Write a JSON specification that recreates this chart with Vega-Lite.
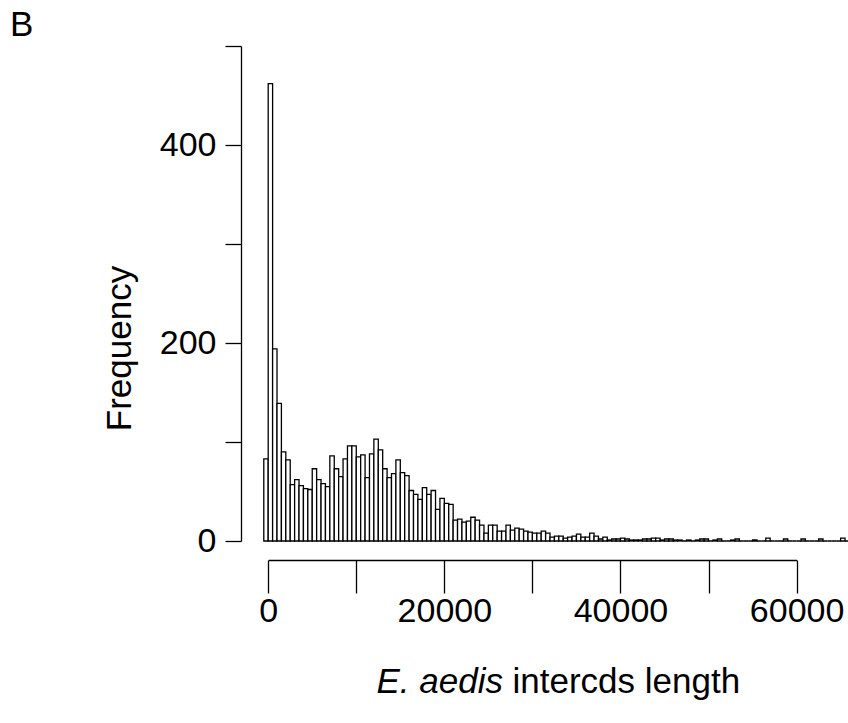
{
  "$schema": "https://vega.github.io/schema/vega-lite/v6.json",
  "width": 607,
  "height": 495,
  "autosize": "none",
  "padding": {"left": 241, "top": 46, "right": 0, "bottom": 182},
  "background": "white",
  "config": {"view": {"stroke": null}, "font": "Liberation Sans"},
  "title": {"text": "B", "anchor": "start", "frame": "group", "fontSize": 35, "fontWeight": "normal", "font": "Liberation Sans", "color": "black", "dx": -231, "offset": 11, "baseline": "alphabetic", "dy": 53},
  "data": {"values": [
    {"start": -500, "end": 0, "count": 83},
    {"start": 0, "end": 500, "count": 462},
    {"start": 500, "end": 1000, "count": 194},
    {"start": 1000, "end": 1500, "count": 139},
    {"start": 1500, "end": 2000, "count": 90},
    {"start": 2000, "end": 2500, "count": 82},
    {"start": 2500, "end": 3000, "count": 57},
    {"start": 3000, "end": 3500, "count": 62},
    {"start": 3500, "end": 4000, "count": 56},
    {"start": 4000, "end": 4500, "count": 53},
    {"start": 4500, "end": 5000, "count": 52},
    {"start": 5000, "end": 5500, "count": 73},
    {"start": 5500, "end": 6000, "count": 62},
    {"start": 6000, "end": 6500, "count": 58},
    {"start": 6500, "end": 7000, "count": 55},
    {"start": 7000, "end": 7500, "count": 86},
    {"start": 7500, "end": 8000, "count": 73},
    {"start": 8000, "end": 8500, "count": 65},
    {"start": 8500, "end": 9000, "count": 83},
    {"start": 9000, "end": 9500, "count": 96},
    {"start": 9500, "end": 10000, "count": 96},
    {"start": 10000, "end": 10500, "count": 85},
    {"start": 10500, "end": 11000, "count": 87},
    {"start": 11000, "end": 11500, "count": 64},
    {"start": 11500, "end": 12000, "count": 88},
    {"start": 12000, "end": 12500, "count": 103},
    {"start": 12500, "end": 13000, "count": 92},
    {"start": 13000, "end": 13500, "count": 73},
    {"start": 13500, "end": 14000, "count": 64},
    {"start": 14000, "end": 14500, "count": 68},
    {"start": 14500, "end": 15000, "count": 82},
    {"start": 15000, "end": 15500, "count": 69},
    {"start": 15500, "end": 16000, "count": 66},
    {"start": 16000, "end": 16500, "count": 51},
    {"start": 16500, "end": 17000, "count": 47},
    {"start": 17000, "end": 17500, "count": 42},
    {"start": 17500, "end": 18000, "count": 54},
    {"start": 18000, "end": 18500, "count": 47},
    {"start": 18500, "end": 19000, "count": 51},
    {"start": 19000, "end": 19500, "count": 32},
    {"start": 19500, "end": 20000, "count": 43},
    {"start": 20000, "end": 20500, "count": 38},
    {"start": 20500, "end": 21000, "count": 37},
    {"start": 21000, "end": 21500, "count": 21},
    {"start": 21500, "end": 22000, "count": 22},
    {"start": 22000, "end": 22500, "count": 19},
    {"start": 22500, "end": 23000, "count": 20},
    {"start": 23000, "end": 23500, "count": 24},
    {"start": 23500, "end": 24000, "count": 21},
    {"start": 24000, "end": 24500, "count": 16},
    {"start": 24500, "end": 25000, "count": 8},
    {"start": 25000, "end": 25500, "count": 16},
    {"start": 25500, "end": 26000, "count": 16},
    {"start": 26000, "end": 26500, "count": 10},
    {"start": 26500, "end": 27000, "count": 10},
    {"start": 27000, "end": 27500, "count": 16},
    {"start": 27500, "end": 28000, "count": 11},
    {"start": 28000, "end": 28500, "count": 13},
    {"start": 28500, "end": 29000, "count": 12},
    {"start": 29000, "end": 29500, "count": 10},
    {"start": 29500, "end": 30000, "count": 9},
    {"start": 30000, "end": 30500, "count": 8},
    {"start": 30500, "end": 31000, "count": 8},
    {"start": 31000, "end": 31500, "count": 10},
    {"start": 31500, "end": 32000, "count": 8},
    {"start": 32000, "end": 32500, "count": 4},
    {"start": 32500, "end": 33000, "count": 5},
    {"start": 33000, "end": 33500, "count": 5},
    {"start": 33500, "end": 34000, "count": 3},
    {"start": 34000, "end": 34500, "count": 4},
    {"start": 34500, "end": 35000, "count": 5},
    {"start": 35000, "end": 35500, "count": 7},
    {"start": 35500, "end": 36000, "count": 4},
    {"start": 36000, "end": 36500, "count": 4},
    {"start": 36500, "end": 37000, "count": 8},
    {"start": 37000, "end": 37500, "count": 5},
    {"start": 37500, "end": 38000, "count": 2},
    {"start": 38000, "end": 38500, "count": 4},
    {"start": 38500, "end": 39000, "count": 1},
    {"start": 39000, "end": 39500, "count": 2},
    {"start": 39500, "end": 40000, "count": 2},
    {"start": 40000, "end": 40500, "count": 3},
    {"start": 40500, "end": 41000, "count": 2},
    {"start": 41000, "end": 41500, "count": 1},
    {"start": 41500, "end": 42000, "count": 1},
    {"start": 42000, "end": 42500, "count": 1},
    {"start": 42500, "end": 43000, "count": 2},
    {"start": 43000, "end": 43500, "count": 2},
    {"start": 43500, "end": 44000, "count": 3},
    {"start": 44000, "end": 44500, "count": 3},
    {"start": 44500, "end": 45000, "count": 1},
    {"start": 45000, "end": 45500, "count": 2},
    {"start": 45500, "end": 46000, "count": 2},
    {"start": 46000, "end": 46500, "count": 1},
    {"start": 46500, "end": 47000, "count": 1},
    {"start": 47000, "end": 47500, "count": 0},
    {"start": 47500, "end": 48000, "count": 1},
    {"start": 48000, "end": 48500, "count": 0},
    {"start": 48500, "end": 49000, "count": 1},
    {"start": 49000, "end": 49500, "count": 2},
    {"start": 49500, "end": 50000, "count": 2},
    {"start": 50000, "end": 50500, "count": 0},
    {"start": 50500, "end": 51000, "count": 1},
    {"start": 51000, "end": 51500, "count": 2},
    {"start": 51500, "end": 52000, "count": 0},
    {"start": 52000, "end": 52500, "count": 0},
    {"start": 52500, "end": 53000, "count": 1},
    {"start": 53000, "end": 53500, "count": 2},
    {"start": 53500, "end": 54000, "count": 0},
    {"start": 54000, "end": 54500, "count": 0},
    {"start": 54500, "end": 55000, "count": 0},
    {"start": 55000, "end": 55500, "count": 1},
    {"start": 55500, "end": 56000, "count": 0},
    {"start": 56000, "end": 56500, "count": 0},
    {"start": 56500, "end": 57000, "count": 3},
    {"start": 57000, "end": 57500, "count": 0},
    {"start": 57500, "end": 58000, "count": 0},
    {"start": 58000, "end": 58500, "count": 0},
    {"start": 58500, "end": 59000, "count": 2},
    {"start": 59000, "end": 59500, "count": 0},
    {"start": 59500, "end": 60000, "count": 0},
    {"start": 60000, "end": 60500, "count": 0},
    {"start": 60500, "end": 61000, "count": 2},
    {"start": 61000, "end": 61500, "count": 0},
    {"start": 61500, "end": 62000, "count": 0},
    {"start": 62000, "end": 62500, "count": 0},
    {"start": 62500, "end": 63000, "count": 2},
    {"start": 63000, "end": 63500, "count": 0},
    {"start": 63500, "end": 64000, "count": 0},
    {"start": 64000, "end": 64500, "count": 0},
    {"start": 64500, "end": 65000, "count": 0},
    {"start": 65000, "end": 65500, "count": 3},
    {"start": 65500, "end": 66000, "count": 0}
  ]},
  "layer": [
    {
      "mark": {"type": "bar", "fill": "white", "stroke": "black", "strokeWidth": 1.3},
      "encoding": {
        "x": {
          "field": "start", "type": "quantitative",
          "scale": {"domain": [0, 60000], "range": [27.2, 555.6], "nice": false, "zero": false},
          "axis": {
            "orient": "bottom", "offset": 19, "grid": false,
            "values": [0, 10000, 20000, 30000, 40000, 50000, 60000],
            "labelExpr": "datum.value % 20000 == 0 ? format(datum.value, 'd') : ''",
            "tickSize": 33, "tickColor": "black", "tickWidth": 1.3,
            "domainColor": "black", "domainWidth": 1.3,
            "labelFontSize": 34, "labelColor": "black", "labelPadding": 1, "labelFont": "Liberation Sans",
            "labelFlush": false, "labelOverlap": false,
            "title": "intercds length", "titleFontSize": 35, "titleFontWeight": "normal", "titleColor": "black", "titleFont": "Liberation Sans",
            "titleX": 271, "titleY": 132, "titleAlign": "left", "titleBaseline": "alphabetic"
          }
        },
        "x2": {"field": "end"},
        "y": {
          "field": "count", "type": "quantitative",
          "scale": {"domain": [0, 500], "nice": false},
          "axis": {
            "grid": false,
            "values": [0, 100, 200, 300, 400, 500],
            "labelExpr": "datum.value % 200 == 0 ? datum.label : ''",
            "tickSize": 16, "tickColor": "black", "tickWidth": 1.3,
            "domainColor": "black", "domainWidth": 1.3,
            "labelFontSize": 34, "labelColor": "black", "labelPadding": 9, "labelFont": "Liberation Sans",
            "labelFlush": false, "labelOverlap": false,
            "title": "Frequency", "titleFontSize": 35, "titleFontWeight": "normal", "titleColor": "black", "titleFont": "Liberation Sans",
            "titleX": -111, "titleY": 302, "titleAngle": -90, "titleAlign": "center", "titleBaseline": "alphabetic"
          }
        },
        "y2": {"datum": 0}
      }
    },
    {
      "mark": {"type": "point", "opacity": 0},
      "encoding": {
        "x": {
          "field": "start", "type": "quantitative",
          "axis": {
            "orient": "bottom", "offset": 19, "domain": false, "ticks": false, "labels": false, "grid": false,
            "title": "E. aedis", "titleFontSize": 35, "titleFontWeight": "normal", "titleFontStyle": "italic", "titleColor": "black", "titleFont": "Liberation Sans",
            "titleX": 135, "titleY": 132, "titleAlign": "left", "titleBaseline": "alphabetic"
          }
        }
      }
    }
  ],
  "resolve": {"axis": {"x": "independent"}}
}
